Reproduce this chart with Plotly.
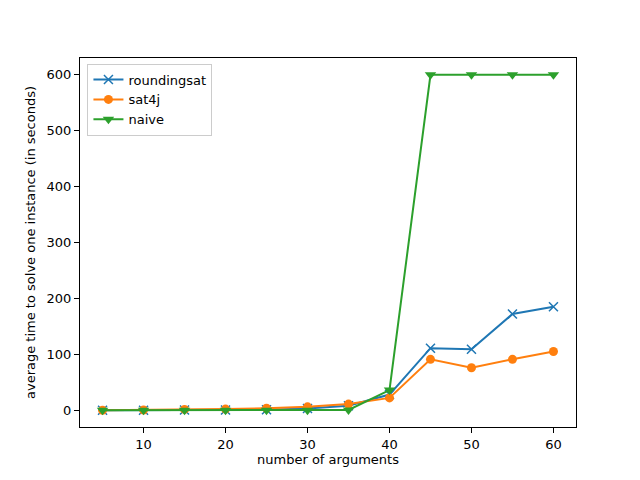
import plotly.graph_objects as go

# data
n_args = [5, 10, 15, 20, 25, 30, 35, 40, 45, 50, 55, 60]
roundingsat = [0, 0, 0.5, 0.5, 1, 3, 8, 28, 111, 109, 172, 185]
sat4j = [0, 0.5, 1.5, 2, 3.5, 6, 11, 22, 91, 76, 91, 105]
naive = [0, 0, 0, 0, 0, 0, 0.5, 36, 600, 600, 600, 600]

x_ticks = [10, 20, 30, 40, 50, 60]
y_ticks = [0, 100, 200, 300, 400, 500, 600]

fig = go.Figure()
fig.add_trace(go.Scatter(
    x=n_args, y=roundingsat, name='roundingsat', mode='lines+markers',
    line=dict(color='#1f77b4', width=2),
    marker=dict(symbol='x-thin-open', size=9, line=dict(color='#1f77b4', width=1.5)),
))
fig.add_trace(go.Scatter(
    x=n_args, y=sat4j, name='sat4j', mode='lines+markers',
    line=dict(color='#ff7f0e', width=2),
    marker=dict(symbol='circle', size=9, color='#ff7f0e'),
))
fig.add_trace(go.Scatter(
    x=n_args, y=naive, name='naive', mode='lines+markers',
    line=dict(color='#2ca02c', width=2),
    marker=dict(symbol='triangle-down', size=10, color='#2ca02c'),
))

axis_style = dict(
    showgrid=False, zeroline=False, showline=True, mirror=True,
    linecolor='black', linewidth=1, ticks='outside', ticklen=5,
    tickcolor='black', tickfont=dict(size=13, color='black'),
    automargin=False,
)

# page body adds an 8px offset, margins compensate for it
fig.update_layout(
    width=640, height=480,
    font=dict(family='DejaVu Sans', size=13, color='black'),
    plot_bgcolor='white', paper_bgcolor='white',
    margin=dict(l=72, r=72, t=50, b=61),
    xaxis=dict(title=dict(text='number of arguments', standoff=4, font=dict(size=13)),
               range=[2.25, 62.75], tickvals=x_ticks, **axis_style),
    yaxis=dict(title=dict(text='average time to solve one instance (in seconds)', standoff=8,
                          font=dict(size=13)),
               range=[-30, 630], tickvals=y_ticks, **axis_style),
    legend=dict(
        x=0.015, y=0.985, xanchor='left', yanchor='top',
        bgcolor='rgba(255,255,255,0.8)', bordercolor='#cccccc', borderwidth=1,
        font=dict(size=13),
    ),
    showlegend=True,
)

fig.write_html("out.html")
